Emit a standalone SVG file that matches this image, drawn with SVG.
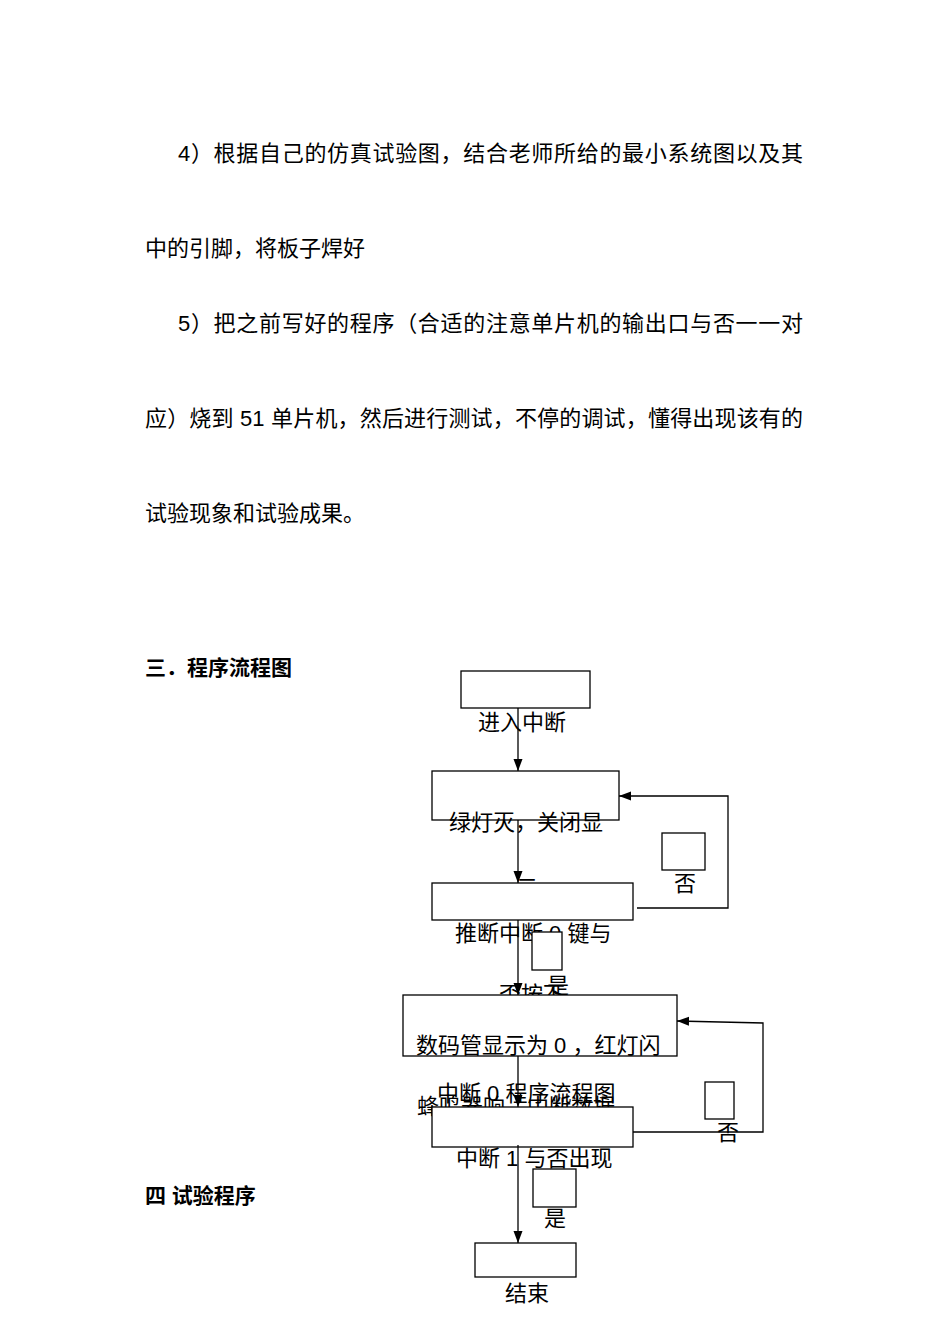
<svg xmlns="http://www.w3.org/2000/svg" width="950" height="1344" viewBox="0 0 950 1344">
<style>
text{font-family:"Liberation Sans","Noto Sans CJK SC",sans-serif;font-size:22px;fill:#000}
.h{font-weight:bold;font-size:21px}
.box{fill:#fff;stroke:#000;stroke-width:1.3}
.lbl{fill:#fff;stroke:#000;stroke-width:1.3}
.c{fill:none;stroke:#000;stroke-width:1.3}
</style>
<defs>
<marker id="ah" markerUnits="userSpaceOnUse" markerWidth="13" markerHeight="10" refX="12" refY="5" orient="auto">
<path d="M0,0.5 L12,5 L0,9.5 Z" fill="#000"/>
</marker>
</defs>
<rect width="950" height="1344" fill="#fff"/>
<g id="body">
<text x="178" y="161" textLength="625" lengthAdjust="spacing">4）根据自己的仿真试验图，结合老师所给的最小系统图以及其</text>
<text x="145" y="256">中的引脚，将板子焊好</text>
<text x="178" y="331" textLength="625" lengthAdjust="spacing">5）把之前写好的程序（合适的注意单片机的输出口与否一一对</text>
<text x="145" y="426" textLength="658" lengthAdjust="spacing">应）烧到 51 单片机，然后进行测试，不停的调试，懂得出现该有的</text>
<text x="145" y="521">试验现象和试验成果。</text>
<text class="h" x="145" y="675">三．程序流程图</text>
<text class="h" x="145" y="1203">四 试验程序</text>
</g>
<g id="n1">
<rect class="box" x="461" y="671" width="129" height="37"/>
<text x="478" y="730">进入中断</text>
</g>
<g id="n2">
<rect class="box" x="432" y="771" width="187" height="49"/>
<text x="449" y="830">绿灯灭，关闭显</text>
<text x="516" y="896">示</text>
</g>
<g id="n3">
<rect class="box" x="432" y="883" width="201" height="37"/>
<text x="455" y="941">推断中断 0 键与</text>
<text x="499" y="1002">否按下</text>
</g>
<g id="l1">
<rect class="lbl" x="532" y="932" width="30" height="38"/>
<text x="547" y="993">是</text>
</g>
<g id="l2">
<rect class="lbl" x="662" y="833" width="43" height="37"/>
<text x="674" y="891">否</text>
</g>
<g id="n4">
<rect class="box" x="403" y="995" width="274" height="61"/>
<text x="416" y="1053">数码管显示为 0 ，红灯闪</text>
<text x="417" y="1114">蜂鸣器响，中断数据</text>
</g>
<g id="n5">
<rect class="box" x="432" y="1107" width="201" height="40"/>
<text x="456" y="1166">中断 1 与否出现</text>
</g>
<g id="n6">
<rect class="box" x="475" y="1243" width="101" height="34"/>
<text x="505" y="1301">结束</text>
</g>
<g id="l3">
<rect class="lbl" x="705" y="1082" width="29" height="37"/>
<text x="717" y="1140">否</text>
</g>
<g id="l4">
<rect class="lbl" x="533" y="1169" width="43" height="38"/>
<text x="544" y="1226">是</text>
</g>
<g id="caption">
<text x="437" y="1101">中断 0 程序流程图</text>
</g>
<g id="connectors">
<line class="c" x1="518" y1="708" x2="518" y2="771" marker-end="url(#ah)"/>
<line class="c" x1="518" y1="820" x2="518" y2="883" marker-end="url(#ah)"/>
<line class="c" x1="518" y1="920" x2="518" y2="995" marker-end="url(#ah)"/>
<line class="c" x1="518" y1="1056" x2="518" y2="1107" marker-end="url(#ah)"/>
<line class="c" x1="518" y1="1145" x2="518" y2="1243" marker-end="url(#ah)"/>
<polyline class="c" points="637,908 728,908 728,796 619,796" marker-end="url(#ah)"/>
<polyline class="c" points="633,1132 763,1132 763,1023 677,1021" marker-end="url(#ah)"/>
</g>
</svg>
